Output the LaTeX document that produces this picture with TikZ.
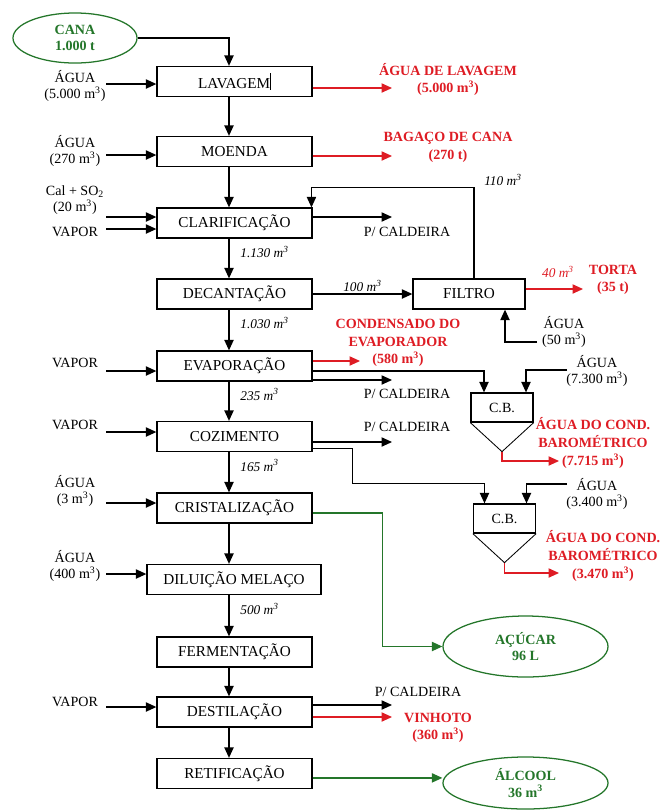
\documentclass[tikz,border=0pt]{standalone}
\usepackage{fontspec}
\setmainfont{Liberation Serif}
\usetikzlibrary{arrows.meta,shapes.geometric}
\definecolor{lossred}{RGB}{222,28,36}
\definecolor{prodgreen}{RGB}{36,118,42}
\begin{document}
\begin{tikzpicture}[x=0.025cm, y=-0.025cm, line width=0.9pt,
    >={Triangle[length=2.6mm, width=2.3mm]},
    txt/.style={font=\fontsize{10}{11.5}\selectfont, align=center, inner sep=1pt},
    proc/.style={draw, txt, font=\fontsize{10.8}{12}\selectfont, minimum width=3.875cm, minimum height=0.75cm, inner sep=0pt},
    cbbox/.style={draw, txt, minimum width=1.55cm, minimum height=0.725cm, inner sep=0pt},
    prod/.style={draw=prodgreen, ellipse, txt, text=prodgreen, font=\fontsize{10}{11.5}\selectfont\bfseries, inner sep=0pt},
    loss/.style={txt, text=lossred, font=\fontsize{10}{12.5}\selectfont\bfseries},
    flow/.style={font=\fontsize{9.5}{11}\selectfont\itshape, pos=0.33, right, xshift=0.15cm},
    qty/.style={font=\fontsize{9.5}{11}\selectfont\itshape, inner sep=1pt},
    rarr/.style={->, draw=lossred},
    garr/.style={->, draw=prodgreen}]
    \useasboundingbox (0,0) rectangle (662,812);

    % main column
    \coordinate (spine) at (229,0);
    \node[prod, minimum width=3.1cm, minimum height=1.25cm] (cana) at (75,38) {CANA\\1.000 t};
    \node[proc] (lav) at (234.5,81.5) {LAVAGEM\rule[-0.25ex]{0.4pt}{2.4ex}};
    \node[proc] (moe) at (234.5,151.5) {MOENDA};
    \node[proc] (cla) at (234.5,223) {CLARIFICAÇÃO};
    \node[proc] (dec) at (234.5,294) {DECANTAÇÃO};
    \node[proc] (eva) at (234.5,366) {EVAPORAÇÃO};
    \node[proc] (coz) at (234.5,436.5) {COZIMENTO};
    \node[proc] (cri) at (234.5,508) {CRISTALIZAÇÃO};
    \node[proc, minimum width=4.35cm] (dil) at (234,579.5) {DILUIÇÃO MELAÇO};
    \node[proc] (fer) at (234.5,652) {FERMENTAÇÃO};
    \node[proc] (des) at (234.5,712) {DESTILAÇÃO};
    \node[proc] (ret) at (234.5,773.5) {RETIFICAÇÃO};

    \draw[->] (cana.east) -| (lav.north -| spine);
    \draw[->] (lav.south -| spine) -- (moe.north -| spine);
    \draw[->] (moe.south -| spine) -- (cla.north -| spine);
    \draw[->] (cla.south -| spine) -- node[flow] {1.130 m\textsuperscript{3}} (dec.north -| spine);
    \draw[->] (dec.south -| spine) -- node[flow] {1.030 m\textsuperscript{3}} (eva.north -| spine);
    \draw[->] (eva.south -| spine) -- node[flow] {235 m\textsuperscript{3}} (coz.north -| spine);
    \draw[->] (coz.south -| spine) -- node[flow] {165 m\textsuperscript{3}} (cri.north -| spine);
    \draw[->] (cri.south -| spine) -- (dil.north -| spine);
    \draw[->] (dil.south -| spine) -- node[flow] {500 m\textsuperscript{3}} (fer.north -| spine);
    \draw[->] (fer.south -| spine) -- (des.north -| spine);
    \draw[->] (des.south -| spine) -- (ret.north -| spine);

    % inputs on the left
    \node[txt] (inLav) at (75,86) {ÁGUA\\(5.000 m\textsuperscript{3})};
    \node[txt] (inMoe) at (75,151) {ÁGUA\\(270 m\textsuperscript{3})};
    \node[txt] (inCal) at (75,200) {Cal + SO\textsubscript{2}\\(20 m\textsuperscript{3})};
    \node[txt] (inVap1) at (75,232) {VAPOR};
    \node[txt] (inVap2) at (75,363) {VAPOR};
    \node[txt] (inVap3) at (75,425) {VAPOR};
    \node[txt] (inCri) at (75,491) {ÁGUA\\(3 m\textsuperscript{3})};
    \node[txt] (inDil) at (75,566) {ÁGUA\\(400 m\textsuperscript{3})};
    \node[txt] (inVap4) at (75,702) {VAPOR};

    \coordinate (aLav) at (106,84);
    \coordinate (aMoe) at (106,155);
    \coordinate (aCal) at (106,217);
    \coordinate (aVap1) at (106,229);
    \coordinate (aVap2) at (106,371);
    \coordinate (aVap3) at (106,432);
    \coordinate (aCri) at (106,503);
    \coordinate (aDil) at (106,574);
    \coordinate (aVap4) at (106,707);
    \draw[->] (aLav) -- (aLav -| lav.west);
    \draw[->] (aMoe) -- (aMoe -| moe.west);
    \draw[->] (aCal) -- (aCal -| cla.west);
    \draw[->] (aVap1) -- (aVap1 -| cla.west);
    \draw[->] (aVap2) -- (aVap2 -| eva.west);
    \draw[->] (aVap3) -- (aVap3 -| coz.west);
    \draw[->] (aCri) -- (aCri -| cri.west);
    \draw[->] (aDil) -- (aDil -| dil.west);
    \draw[->] (aVap4) -- (aVap4 -| des.west);

    % outputs on the right
    \coordinate (oLav) at (392,88);
    \coordinate (oMoe) at (392,156);
    \coordinate (oCla) at (392,217);
    \coordinate (oEva1) at (360,361);
    \coordinate (oEva2) at (392,380);
    \coordinate (oCoz) at (392,442);
    \coordinate (oDes1) at (392,705);
    \coordinate (oDes2) at (392,717);
    \draw[rarr] (lav.east |- oLav) -- (oLav);
    \draw[rarr] (moe.east |- oMoe) -- (oMoe);
    \draw[->] (cla.east |- oCla) -- (oCla);
    \draw[rarr] (eva.east |- oEva1) -- (oEva1);
    \draw[->] (eva.east |- oEva2) -- (oEva2);
    \draw[->] (coz.east |- oCoz) -- (oCoz);
    \draw[->] (des.east |- oDes1) -- (oDes1);
    \draw[rarr] (des.east |- oDes2) -- (oDes2);

    \node[loss] (lavOut) at (448,79.5) {ÁGUA DE LAVAGEM\\(5.000 m\textsuperscript{3})};
    \node[loss] (moeOut) at (448,147.5) {BAGAÇO DE CANA\\(270 t)};
    \node[txt] (cald1) at (407,232) {P/ CALDEIRA};
    \node[loss] (evaOut) at (398,343) {CONDENSADO DO\\EVAPORADOR\\(580 m\textsuperscript{3})};
    \node[txt] (cald2) at (407,394) {P/ CALDEIRA};
    \node[txt] (cald3) at (407,427) {P/ CALDEIRA};
    \node[txt] (cald4) at (418,692) {P/ CALDEIRA};
    \node[loss] (desOut) at (438,728) {VINHOTO\\(360 m\textsuperscript{3})};

    % filter loop
    \node[draw, txt, font=\fontsize{10.8}{12}\selectfont, minimum width=2.8cm, minimum height=0.75cm, inner sep=0pt] (fil) at (469,294) {FILTRO};
    \draw[->] (dec) -- node[qty, above] {100 m\textsuperscript{3}} (fil);
    \draw[->] ([xshift=0.125cm]fil.north) -- ++(0,-91) -| ([xshift=-0.03cm]cla.north east);
    \node[qty] (q110) at (503,180) {110 m\textsuperscript{3}};
    \coordinate (oFil) at (583,289);
    \draw[rarr] (fil.east |- oFil) -- (oFil);
    \node[qty, text=lossred] (q40) at (558,272) {40 m\textsuperscript{3}};
    \node[loss] (filOut) at (613,280) {TORTA\\(35 t)};
    \node[txt] (inFil) at (564,332) {ÁGUA\\(50 m\textsuperscript{3})};
    \coordinate (aFil) at (537,342);
    \draw[->] (aFil) -| ([xshift=0.9cm]fil.south);

    % barometric condensers
    \node[cbbox] (cb1) at (502,407.5) {C.B.};
    \coordinate (cb1tip) at ([yshift=-0.725cm]cb1.south);
    \draw[line width=0.6pt] (cb1.south west) -- (cb1tip) -- (cb1.south east);
    \draw[->] (eva.east |- 0,371) -| ([xshift=-0.45cm]cb1.north);
    \node[txt] (inCb1) at (597,371) {ÁGUA\\(7.300 m\textsuperscript{3})};
    \coordinate (aCb1) at (567,370);
    \draw[->] (aCb1) -| ([xshift=0.6cm]cb1.north);
    \coordinate (oCb1) at (559,461);
    \draw[rarr] (cb1tip) |- (oCb1);
    \node[loss] (cb1Out) at (593,443) {ÁGUA DO COND.\\BAROMÉTRICO\\(7.715 m\textsuperscript{3})};

    \node[cbbox] (cb2) at (504.5,518.5) {C.B.};
    \coordinate (cb2tip) at ([yshift=-0.725cm]cb2.south);
    \draw[line width=0.6pt] (cb2.south west) -- (cb2tip) -- (cb2.south east);
    \draw[->] ([yshift=-0.3cm]coz.east) -- ++(40,0) -- ++(0,35) -| ([xshift=-0.5cm]cb2.north);
    \node[txt] (inCb2) at (597,494) {ÁGUA\\(3.400 m\textsuperscript{3})};
    \coordinate (aCb2) at (567,484);
    \draw[->] (aCb2) -| ([xshift=0.55cm]cb2.north);
    \coordinate (oCb2) at (559,573);
    \draw[rarr] (cb2tip) |- (oCb2);
    \node[loss] (cb2Out) at (603,556) {ÁGUA DO COND.\\BAROMÉTRICO\\(3.470 m\textsuperscript{3})};

    % products
    \node[prod, minimum width=4.125cm, minimum height=1.525cm] (acu) at (525.5,646.5) {AÇÚCAR\\96 L};
    \node[prod, minimum width=4.125cm, minimum height=1.3cm] (alc) at (525.5,783) {ÁLCOOL\\36 m\textsuperscript{3}};
    \draw[garr] ([yshift=-0.125cm]cri.east) -- ++(70,0) |- (acu.west);
    \draw[garr] ([yshift=-0.11cm]ret.east) -- ([yshift=-0.11cm]ret.east -| alc.west);
\end{tikzpicture}
\end{document}
